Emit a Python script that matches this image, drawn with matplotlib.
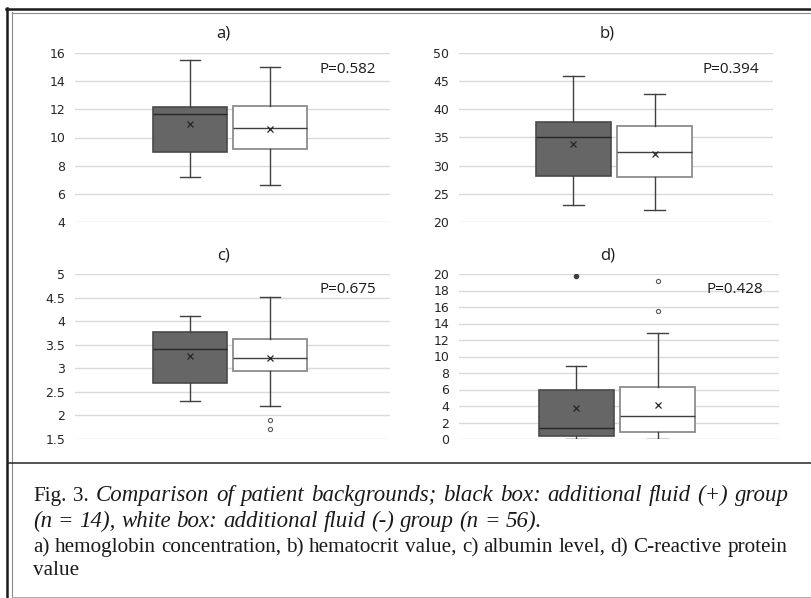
import matplotlib
matplotlib.use('Agg')
import matplotlib.pyplot as plt
from matplotlib.lines import Line2D
import numpy as np

# values: [whisker low, Q1, median, Q3, whisker high, mean]
hb_plus = [7.2, 8.95, 11.7, 12.15, 15.5, 10.95]
hb_minus = [6.6, 9.15, 10.7, 12.25, 15.0, 10.6]
hct_plus = [23.0, 28.2, 35.0, 37.8, 45.9, 33.85]
hct_minus = [22.1, 27.9, 32.4, 37.0, 42.7, 32.1]
alb_plus = [2.31, 2.68, 3.41, 3.77, 4.1, 3.27]
alb_minus = [2.21, 2.94, 3.21, 3.62, 4.51, 3.22]
crp_plus = [0.0, 0.4, 1.3, 6.0, 8.83, 3.72]
crp_minus = [0.0, 0.8, 2.75, 6.28, 12.83, 4.13]

# outliers
hb_plus_out, hb_minus_out = [], []
hct_plus_out, hct_minus_out = [], []
alb_plus_out, alb_minus_out = [], [1.9, 1.71]
crp_plus_out, crp_minus_out = [19.7], [19.2, 15.5]

panel_titles = ['a)', 'b)', 'c)', 'd)']
p_values = ['P=0.582', 'P=0.394', 'P=0.675', 'P=0.428']
y_limits = [(4, 16), (20, 50), (1.5, 5), (0, 20)]
y_steps = [2, 5, 0.5, 2]

W, H = 812, 598
fig = plt.figure(figsize=(W / 100, H / 100), dpi=100)


def fx(px):
    return px / W


def fy(py):
    return 1 - py / H


def make_stats(v, out):
    return {'whislo': v[0], 'q1': v[1], 'med': v[2], 'q3': v[3],
            'whishi': v[4], 'mean': v[5], 'fliers': out}


# axes boxes in pixels: left, top, right, bottom
boxes_px = [(75, 53, 390, 222), (459, 53, 773, 222),
            (75, 274, 390, 439), (459, 274, 779, 439)]
xlims = [(-0.44, 3.5), (-0.41, 3.46), (-0.44, 3.5), (-0.44, 3.49)]
title_pos = [(223, 34), (607, 34), (223, 256), (608, 256)]

data = [(hb_plus, hb_plus_out, hb_minus, hb_minus_out),
        (hct_plus, hct_plus_out, hct_minus, hct_minus_out),
        (alb_plus, alb_plus_out, alb_minus, alb_minus_out),
        (crp_plus, crp_plus_out, crp_minus, crp_minus_out)]

for i in range(4):
    l, t, r, b = boxes_px[i]
    ax = fig.add_axes([fx(l), fy(b), fx(r - l), (b - t) / H])
    plus, plus_out, minus, minus_out = data[i]

    # black box
    ax.bxp([make_stats(plus, plus_out)], positions=[1], widths=0.925,
           capwidths=0.25, showmeans=True, patch_artist=True, manage_ticks=False,
           boxprops=dict(facecolor='#666666', edgecolor='#4a4a4a', lw=1.2),
           medianprops=dict(color='#262626', lw=1.0),
           whiskerprops=dict(color='#404040', lw=1.0),
           capprops=dict(color='#404040', lw=1.0),
           meanprops=dict(marker='x', markeredgecolor='#262626', markersize=5, markeredgewidth=0.9),
           flierprops=dict(marker='o', markerfacecolor='#404040', markeredgecolor='#404040', markersize=3))
    # white box
    ax.bxp([make_stats(minus, minus_out)], positions=[2], widths=0.925,
           capwidths=0.25, showmeans=True, patch_artist=True, manage_ticks=False,
           boxprops=dict(facecolor='white', edgecolor='#8c8c8c', lw=1.3),
           medianprops=dict(color='#404040', lw=1.0),
           whiskerprops=dict(color='#404040', lw=1.0),
           capprops=dict(color='#404040', lw=1.0),
           meanprops=dict(marker='x', markeredgecolor='#262626', markersize=5, markeredgewidth=0.9),
           flierprops=dict(marker='o', markerfacecolor='white', markeredgecolor='#595959', markersize=3, markeredgewidth=0.8))

    lo, hi = y_limits[i]
    ticks = np.arange(lo, hi + y_steps[i] / 2, y_steps[i])
    ax.set_ylim(lo, hi)
    ax.set_yticks(ticks)
    ax.set_yticklabels(['%g' % tk for tk in ticks])
    ax.set_xlim(*xlims[i])
    ax.set_xticks([])
    ax.grid(axis='y', color='#d9d9d9', lw=1.0)
    ax.set_axisbelow(True)
    for s in ax.spines.values():
        s.set_visible(False)
    ax.tick_params(axis='y', length=0, pad=7, labelsize=9, colors='#262626')

    ax.text(0.775, 0.905, p_values[i], transform=ax.transAxes, fontsize=11,
            ha='left', va='center', color='#1a1a1a', family='Open Sans')
    fig.text(fx(title_pos[i][0]), fy(title_pos[i][1]), panel_titles[i],
             fontsize=12, ha='center', va='center', color='#1a1a1a', family='Open Sans')


# frame lines
def hline(y, x0, x1, color, lw):
    fig.add_artist(Line2D([fx(x0), fx(x1)], [fy(y), fy(y)], color=color, lw=lw))


def vline(x, y0, y1, color, lw):
    fig.add_artist(Line2D([fx(x), fx(x)], [fy(y0), fy(y1)], color=color, lw=lw))


vline(7, 8, 598, '#1a1a1a', 1.8)
hline(9, 6, 812, '#1a1a1a', 1.8)
vline(12, 12, 598, '#8c8c8c', 0.8)
hline(12.5, 12, 812, '#8c8c8c', 0.8)
hline(463, 8, 812, '#262626', 1.1)
hline(597, 12, 812, '#b0b0b0', 0.8)

# caption (justified lines get stretched word spacing)
cap_font = 'Liberation Serif'
sizes = {'normal': 15.2, 'italic': 16.5}
renderer = fig.canvas.get_renderer()


def text_width(s, st):
    tx = fig.text(0, 0, s, fontsize=sizes[st], family=cap_font, style=st)
    w = tx.get_window_extent(renderer).width
    tx.remove()
    return w


def caption_line(words, y, x0, x1=None):
    # words: list of (text, style)
    texts = []
    for w, st in words:
        texts.append(fig.text(0, fy(y), w, fontsize=sizes[st], family=cap_font,
                              style=st, va='baseline', color='#1a1a1a'))
    widths = [tx.get_window_extent(renderer).width for tx in texts]
    st0 = words[0][1]
    sw = text_width('a b', st0) - text_width('ab', st0)
    gap = sw if x1 is None else (x1 - x0 - sum(widths)) / (len(words) - 1)
    x = x0
    for tx, wd in zip(texts, widths):
        tx.set_x(fx(x))
        x += wd + gap


line1 = [('Fig.', 'normal'), ('3.', 'normal')] + \
    [(w, 'italic') for w in 'Comparison of  patient backgrounds; black box: additional fluid (+) group'.split()]
line2 = [(w, 'italic') for w in '(n = 14), white box: additional fluid (-) group (n = 56).'.split()]
line3 = [(w, 'normal') for w in
         'a) hemoglobin concentration, b) hematocrit value, c) albumin level, d) C-reactive protein'.split()]
line4 = [('value', 'normal')]

caption_line(line1, 501, 33, 789)
caption_line(line2, 527, 33)
caption_line(line3, 552, 33, 787)
caption_line(line4, 575, 33)

fig.savefig('out.png', dpi=100, facecolor='white')
